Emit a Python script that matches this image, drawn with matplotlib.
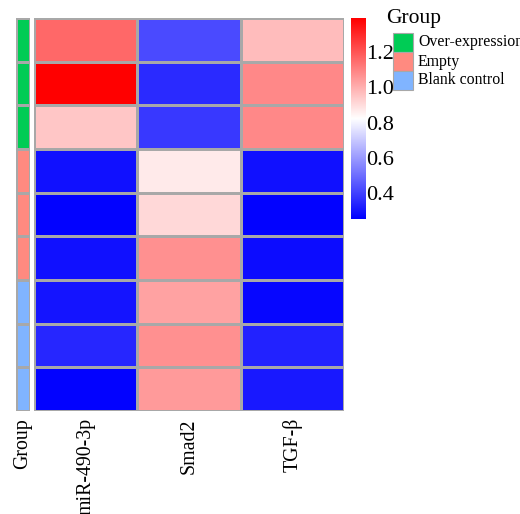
import matplotlib

matplotlib.use("Agg")

import matplotlib.pyplot as plt
import numpy as np
from matplotlib.colors import LinearSegmentedColormap, ListedColormap, Normalize
from matplotlib.patches import Rectangle


GENES = ["miR-490-3p", "Smad2", "TGF-β"]
GROUPS = ["Over-expression", "Empty", "Blank control"]
GROUP_COLORS = ["#00CC55", "#FF8A80", "#80B4FF"]
# group index of each sample row, top to bottom
SAMPLE_GROUP = [0, 0, 0, 1, 1, 1, 2, 2, 2]

MIR = [1.16, 1.39, 0.95, 0.29, 0.26, 0.29, 0.30, 0.34, 0.26]
SMAD2 = [0.42, 0.35, 0.38, 0.87, 0.91, 1.07, 1.03, 1.07, 1.05]
TGFB = [0.97, 1.09, 1.09, 0.29, 0.26, 0.28, 0.27, 0.33, 0.31]

VMIN, VMAX = 0.253, 1.393
CBAR_TICKS = [0.4, 0.6, 0.8, 1.0, 1.2]

W, H = 520, 514


def px_axes(fig, x0, y0, x1, y1):
    # axes placed by pixel box (top-left origin)
    return fig.add_axes([x0 / W, 1 - y1 / H, (x1 - x0) / W, (y1 - y0) / H])


plt.rcParams["font.family"] = ["Liberation Serif", "DejaVu Serif"]

fig = plt.figure(figsize=(W / 100, H / 100), dpi=100)

cmap = LinearSegmentedColormap.from_list("bwr_ramp", ["#0000FF", "#FFFFFF", "#FF0000"], N=256)
norm = Normalize(VMIN, VMAX)
edge = "#A8A8A8"

data = np.column_stack([MIR, SMAD2, TGFB])
n_rows, n_cols = data.shape

# main heatmap
ax = px_axes(fig, 34, 18, 344, 411)
ax.pcolormesh(data, cmap=cmap, norm=norm, edgecolors=edge, linewidth=1.0)
ax.set_xlim(0, n_cols)
ax.set_ylim(n_rows, 0)
ax.set_xticks([])
ax.set_yticks([])
for s in ax.spines.values():
    s.set_visible(False)

# column labels below
for j, name in enumerate(GENES):
    fig.text((34 + (j + 0.5) * 310 / n_cols) / W, 1 - 418 / H, name,
             rotation=90, ha="center", va="top", fontsize=14.3)

# group annotation strip
ax_a = px_axes(fig, 16, 18, 30, 411)
ax_a.pcolormesh(np.array(SAMPLE_GROUP)[:, None], cmap=ListedColormap(GROUP_COLORS),
                vmin=-0.5, vmax=2.5, edgecolors=edge, linewidth=1.0)
ax_a.set_xlim(0, 1)
ax_a.set_ylim(n_rows, 0)
ax_a.set_xticks([])
ax_a.set_yticks([])
for s in ax_a.spines.values():
    s.set_visible(False)
fig.text(23 / W, 1 - 418 / H, "Group", rotation=90, ha="center", va="top", fontsize=14.3)

# colour bar
ax_c = px_axes(fig, 351, 18, 365, 219)
grad = np.linspace(VMIN, VMAX, 256)[:, None]
ax_c.imshow(grad, aspect="auto", cmap=cmap, norm=norm, origin="lower",
            extent=[0, 1, VMIN, VMAX])
ax_c.set_xticks([])
ax_c.yaxis.tick_right()
ax_c.set_yticks(CBAR_TICKS)
ax_c.set_yticklabels([f"{t:.1f}" for t in CBAR_TICKS], fontsize=16)
ax_c.tick_params(axis="y", length=0, pad=0.5)
for s in ax_c.spines.values():
    s.set_visible(False)

# group legend
fig.text(386 / W, 1 - 19 / H, "Group", ha="left", va="center", fontsize=15.5)
for i, (label, color) in enumerate(zip(GROUPS, GROUP_COLORS)):
    y0 = 33 + i * 19
    fig.patches.append(Rectangle((393 / W, 1 - (y0 + 19) / H), 20 / W, 19 / H,
                                 transform=fig.transFigure, facecolor=color,
                                 edgecolor=edge, linewidth=0.8))
    fig.text(418 / W, 1 - (y0 + 9.5) / H, label, ha="left", va="center", fontsize=11.4)

fig.savefig("out.png", dpi=100)
